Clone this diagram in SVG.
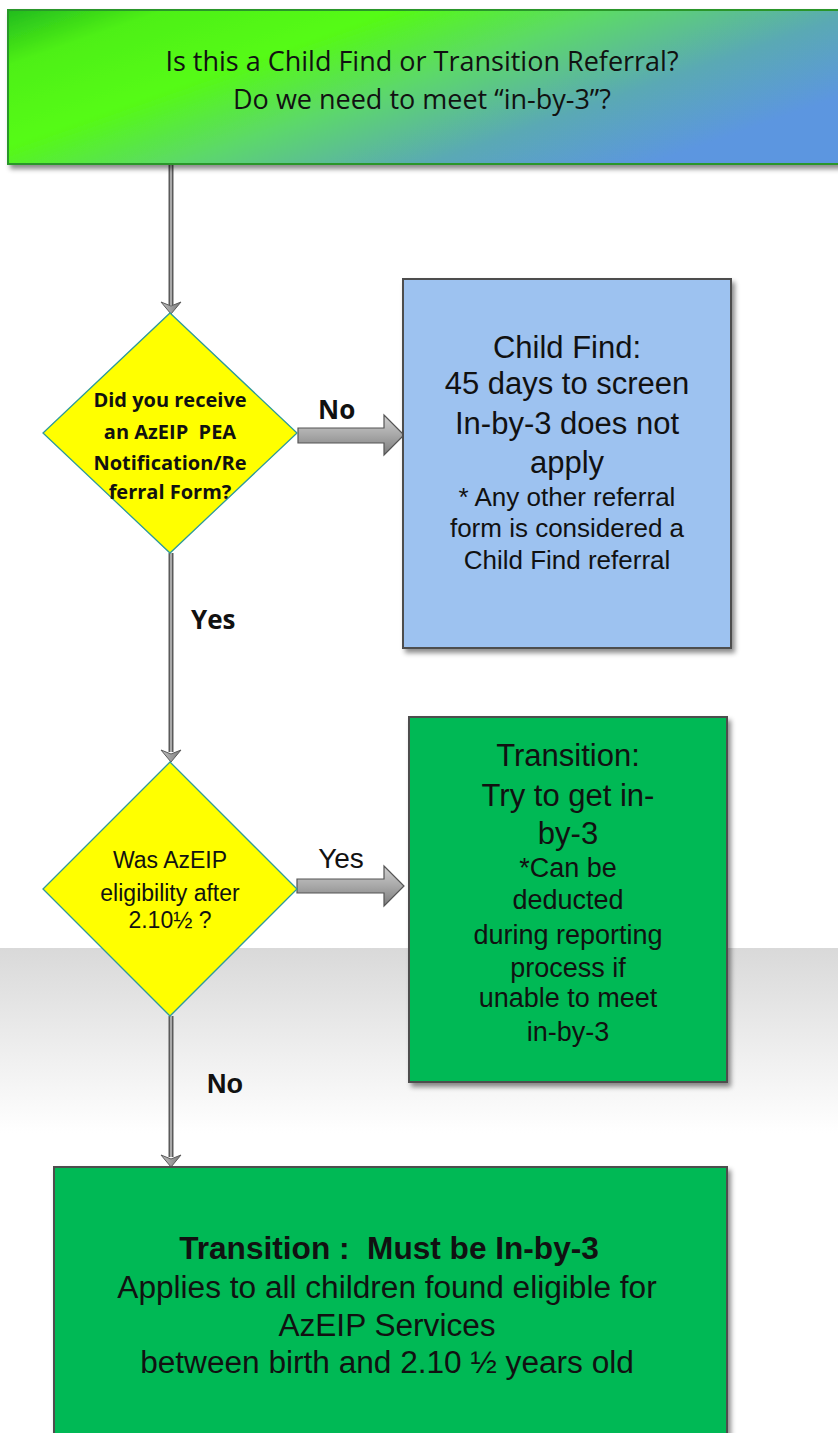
<svg xmlns="http://www.w3.org/2000/svg" width="838" height="1433" viewBox="0 0 838 1433">
<defs>
<linearGradient id="bgBand" x1="0" y1="0" x2="0" y2="1">
<stop offset="0" stop-color="#d9d9d9"/>
<stop offset="1" stop-color="#ffffff"/>
</linearGradient>
<linearGradient id="topGrad" gradientUnits="userSpaceOnUse" x1="225" y1="-70" x2="349" y2="282">
<stop offset="0" stop-color="#1fb81f"/>
<stop offset="0.15" stop-color="#4ef015"/>
<stop offset="0.35" stop-color="#55fb12"/>
<stop offset="0.55" stop-color="#5cd86a"/>
<stop offset="0.77" stop-color="#5aa9b4"/>
<stop offset="0.97" stop-color="#5b96e0"/>
</linearGradient>
<linearGradient id="arrowGrad" x1="0" y1="0" x2="0" y2="1">
<stop offset="0" stop-color="#d0d0d0"/>
<stop offset="0.5" stop-color="#a8a8a8"/>
<stop offset="1" stop-color="#7c7c7c"/>
</linearGradient>
<linearGradient id="headGrad" x1="0" y1="0" x2="1" y2="0">
<stop offset="0" stop-color="#c0c0c0"/>
<stop offset="1" stop-color="#7a7a7a"/>
</linearGradient>
<filter id="shadow" x="-10%" y="-10%" width="125%" height="125%">
<feDropShadow dx="3" dy="4" stdDeviation="2.5" flood-color="#000" flood-opacity="0.45"/>
</filter>
</defs>
<style>
.box{stroke:#4d4d4d;stroke-width:2;filter:url(#shadow)}
.dia{fill:#ffff00;stroke:#2e9a9a;stroke-width:1.3}
.line-o{stroke:#5a5a5a;stroke-width:5;fill:none}
.line-i{stroke:#a9a9a9;stroke-width:2;fill:none}
.head{fill:url(#headGrad);stroke:#5a5a5a;stroke-width:1}
.barrow{fill:url(#arrowGrad);stroke:#555;stroke-width:1.2}
.cal{font-family:"Open Sans","Liberation Sans",sans-serif;fill:#111;text-anchor:middle}
.ar{font-family:"Liberation Sans",Arial,sans-serif;fill:#111;text-anchor:middle}
.lbl{font-family:"Open Sans","Liberation Sans",sans-serif;fill:#111;font-weight:bold;font-size:26px}
</style>
<rect x="0" y="0" width="838" height="1433" fill="#ffffff"/>
<rect x="0" y="948" width="838" height="185" fill="url(#bgBand)"/>

<g id="connectors">
<line class="line-o" x1="171" y1="164" x2="171" y2="305"/>
<line class="line-i" x1="171" y1="164" x2="171" y2="305"/>
<path class="head" d="M161,302 L171,306 L181,302 L171,314 Z"/>
<line class="line-o" x1="171" y1="553" x2="171" y2="752"/>
<line class="line-i" x1="171" y1="553" x2="171" y2="752"/>
<path class="head" d="M161,750 L171,754 L181,750 L171,762 Z"/>
<line class="line-o" x1="171" y1="1016" x2="171" y2="1157"/>
<line class="line-i" x1="171" y1="1016" x2="171" y2="1157"/>
<path class="head" d="M161,1155 L171,1159 L181,1155 L171,1167 Z"/>
<path class="barrow" d="M298,428 L384,428 L384,415 L404,435 L384,455 L384,443 L298,443 Z"/>
<path class="barrow" d="M297,879 L384,879 L384,866 L404,886 L384,906 L384,893 L297,893 Z"/>
<text class="lbl" x="318" y="419">No</text>
<text class="lbl" x="191" y="629">Yes</text>
<text class="ar" x="341" y="868" font-size="28">Yes</text>
<text class="ar" x="225" y="1093" font-size="27" font-weight="bold">No</text>
</g>

<g id="start">
<rect class="box" x="8" y="10" width="840" height="154" fill="url(#topGrad)" style="stroke:#2b962b"/>
<text class="cal" x="422" y="71" font-size="27">Is this a Child Find or Transition Referral?</text>
<text class="cal" x="422" y="109" font-size="27">Do we need to meet “in-by-3”?</text>
</g>

<g id="decision1">
<polygon class="dia" points="170,313 297,433 170,553 43,433"/>
<text class="cal" x="170" y="407" font-size="20" font-weight="bold">Did you receive</text>
<text class="cal" x="170" y="439" font-size="20" font-weight="bold" xml:space="preserve">an AzEIP  PEA</text>
<text class="cal" x="170" y="470" font-size="20" font-weight="bold">Notification/Re</text>
<text class="cal" x="170" y="499" font-size="20" font-weight="bold">ferral Form?</text>
</g>

<g id="childfind">
<rect class="box" x="403" y="279" width="328" height="369" fill="#9dc2f0"/>
<text class="ar" x="567" y="358" font-size="31">Child Find:</text>
<text class="ar" x="567" y="394" font-size="31">45 days to screen</text>
<text class="ar" x="567" y="434" font-size="31">In-by-3 does not</text>
<text class="ar" x="567" y="473" font-size="31">apply</text>
<text class="ar" x="567" y="506" font-size="26">* Any other referral</text>
<text class="ar" x="567" y="537" font-size="26">form is considered a</text>
<text class="ar" x="567" y="569" font-size="26">Child Find referral</text>
</g>

<g id="decision2">
<polygon class="dia" points="170,762 297,889 170,1016 43,889"/>
<text class="ar" x="170" y="868" font-size="23">Was AzEIP</text>
<text class="ar" x="170" y="901" font-size="23">eligibility after</text>
<text class="ar" x="170" y="928" font-size="23">2.10½ ?</text>
</g>

<g id="transition-try">
<rect class="box" x="409" y="717" width="318" height="365" fill="#05b955"/>
<text class="ar" x="568" y="766" font-size="31">Transition:</text>
<text class="ar" x="568" y="806" font-size="31">Try to get in-</text>
<text class="ar" x="568" y="844" font-size="31">by-3</text>
<text class="ar" x="568" y="877" font-size="27">*Can be</text>
<text class="ar" x="568" y="909" font-size="27">deducted</text>
<text class="ar" x="568" y="944" font-size="27">during reporting</text>
<text class="ar" x="568" y="977" font-size="27">process if</text>
<text class="ar" x="568" y="1007" font-size="27">unable to meet</text>
<text class="ar" x="568" y="1041" font-size="27">in-by-3</text>
</g>

<g id="transition-must">
<rect class="box" x="54" y="1167" width="673" height="300" fill="#05b955"/>
<text class="ar" transform="translate(389,1259) scale(1.02,1)" x="0" y="0" font-size="31" font-weight="bold" xml:space="preserve">Transition :  Must be In-by-3</text>
<text class="ar" transform="translate(387,1298) scale(1.02,1)" x="0" y="0" font-size="31">Applies to all children found eligible for</text>
<text class="ar" transform="translate(387,1336) scale(1.02,1)" x="0" y="0" font-size="31">AzEIP Services</text>
<text class="ar" transform="translate(387,1373) scale(1.02,1)" x="0" y="0" font-size="31">between birth and 2.10 ½ years old</text>
</g>
</svg>
